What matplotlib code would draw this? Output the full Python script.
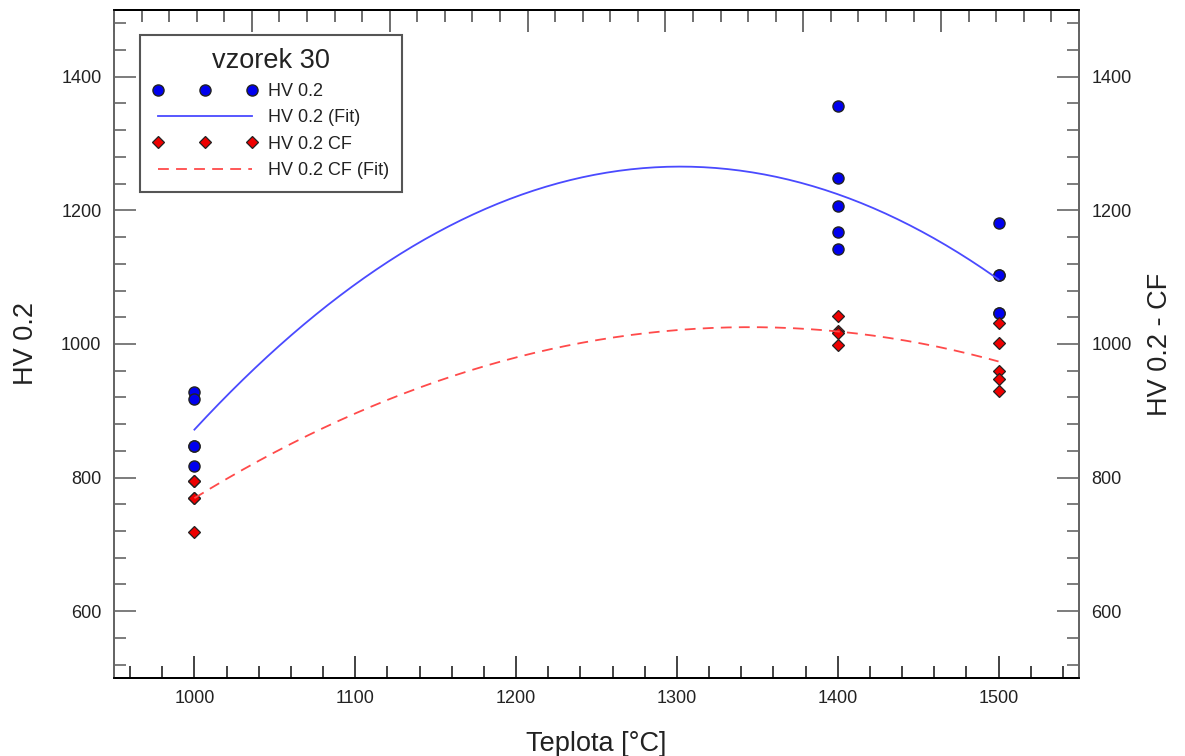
import numpy as np
import matplotlib
matplotlib.use("Agg")
import matplotlib.pyplot as plt
from matplotlib.ticker import MultipleLocator

# ---------------------------------------------------------
# Data
# ---------------------------------------------------------
temp_hv = [1000, 1000, 1000, 1000, 1000,
           1400, 1400, 1400, 1400, 1400,
           1500, 1500, 1500, 1500, 1500]
hv = [928, 918, 848, 848, 817,
      1356, 1249, 1207, 1167, 1142,
      1181, 1104, 1104, 1047, 1047]

temp_cf = [1000, 1000, 1000, 1000, 1000,
           1400, 1400, 1400, 1400,
           1500, 1500, 1500, 1500, 1500]
hv_cf = [795, 795, 769, 769, 718,
         1042, 1019, 1016, 998,
         1031, 1002, 959, 948, 929]

plt.rcParams['font.family'] = ['Liberation Sans', 'DejaVu Sans']
text_col = '#222222'
spine_gray = '#666666'

# quadratic fits of the measured points
fit_x = np.linspace(1000, 1500, 200)
fit_hv = np.polyval(np.polyfit(temp_hv, hv, 2), fit_x)
fit_cf = np.polyval(np.polyfit(temp_cf, hv_cf, 2), fit_x)

fig = plt.figure(figsize=(11.85, 7.56), dpi=100)
ax = fig.add_axes([0.0962, 0.1032, 0.8143, 0.8836])
ax2 = ax.twinx()
ax_top = ax.twiny()   # unlabeled top scale, 7 divisions

for a in (ax, ax2):
    a.set_xlim(950, 1550)
    a.set_ylim(500, 1500)
    a.yaxis.set_major_locator(MultipleLocator(200))
    a.yaxis.set_minor_locator(MultipleLocator(40))

ax.xaxis.set_major_locator(MultipleLocator(100))
ax.xaxis.set_minor_locator(MultipleLocator(20))
ax.set_yticks([600, 800, 1000, 1200, 1400])
ax2.set_yticks([600, 800, 1000, 1200, 1400])

ax.tick_params(which='both', direction='in', top=False, right=False,
               labelsize=13, colors=text_col, pad=9)
ax.tick_params(which='major', length=16, width=1.2)
ax.tick_params(which='minor', length=8.5, width=1.2)
ax.tick_params(axis='y', which='both', color=spine_gray)
ax2.tick_params(which='both', direction='in', labelsize=13,
                colors=text_col, pad=9, color=spine_gray)
ax2.tick_params(which='major', length=16, width=1.2)
ax2.tick_params(which='minor', length=8.5, width=1.2)

ax_top.set_xlim(0, 7)
ax_top.xaxis.set_major_locator(MultipleLocator(1))
ax_top.xaxis.set_minor_locator(MultipleLocator(0.2))
ax_top.tick_params(which='both', direction='in', labeltop=False,
                   color='#555555')
ax_top.tick_params(which='major', length=16, width=1.2)
ax_top.tick_params(which='minor', length=8.5, width=1.2)

for a in (ax, ax2, ax_top):
    a.spines['left'].set_color(spine_gray)
    a.spines['right'].set_color(spine_gray)
    a.spines['top'].set_color('black')
    a.spines['bottom'].set_color('black')
    for s in a.spines.values():
        s.set_linewidth(1.3)

# points and fits
h1, = ax2.plot(temp_hv, hv, linestyle='none', marker='o', markersize=8,
               markerfacecolor='#0000ee', markeredgecolor='#222222',
               markeredgewidth=1.0, label='HV 0.2')
h2, = ax2.plot(fit_x, fit_hv, color='#4a4aff', linewidth=1.3,
               label='HV 0.2 (Fit)')
h3, = ax2.plot(temp_cf, hv_cf, linestyle='none', marker='D', markersize=6.5,
               markerfacecolor='#ee0000', markeredgecolor='#222222',
               markeredgewidth=0.9, label='HV 0.2 CF')
h4, = ax2.plot(fit_x, fit_cf, color='#ff4a4a', linewidth=1.3,
               dashes=(6, 4), label='HV 0.2 CF (Fit)')

ax.set_xlabel('Teplota [°C]', fontsize=19.5, color=text_col, labelpad=17)
ax.set_ylabel('HV 0.2', fontsize=19.5, color=text_col, labelpad=16)
ax2.set_ylabel('HV 0.2 - CF', fontsize=19.5, color=text_col, labelpad=11)

leg = ax2.legend(handles=[h1, h2, h3, h4], loc='upper left',
                 bbox_to_anchor=(0.027, 0.9626), numpoints=3,
                 fontsize=13, title='vzorek 30', title_fontsize=19.5,
                 handlelength=5.8, handletextpad=0.6, labelspacing=0.52,
                 borderpad=0.7, fancybox=False, framealpha=1,
                 edgecolor='#555555', borderaxespad=0)
leg.get_frame().set_linewidth(1.5)
for t in leg.get_texts():
    t.set_color(text_col)
leg.get_title().set_color(text_col)

fig.savefig('out.png', dpi=100)
